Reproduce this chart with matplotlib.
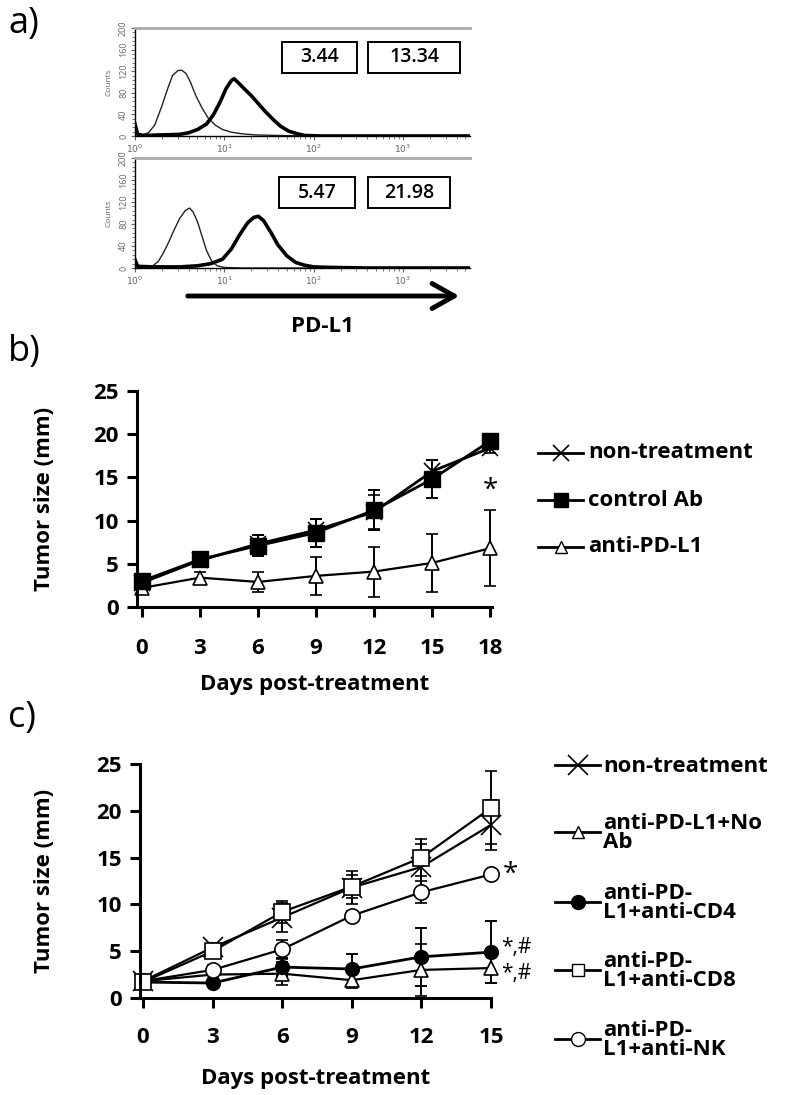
import numpy as np
import matplotlib
matplotlib.use("Agg")
import matplotlib.pyplot as plt
from matplotlib.lines import Line2D
from matplotlib.patches import Rectangle

plt.rcParams['font.family'] = ['Open Sans', 'DejaVu Sans']

# ---- panel a: PD-L1 histograms (log10 intensity, counts) ----
h1_thin_x = [0.0, 0.03, 0.08, 0.15, 0.22, 0.3, 0.36, 0.42, 0.48, 0.52, 0.57, 0.62, 0.68, 0.75, 0.82, 0.9, 0.98, 1.08, 1.2, 1.35, 1.6, 2.0, 3.0, 3.75]
h1_thin_y = [18, 4, 2, 6, 20, 55, 85, 112, 121, 122, 116, 100, 75, 52, 33, 20, 12, 7, 4, 2, 1, 0, 0, 0]
h1_thick_x = [0.0, 0.03, 0.1, 0.3, 0.5, 0.6, 0.7, 0.8, 0.88, 0.95, 1.02, 1.08, 1.11, 1.16, 1.22, 1.3, 1.38, 1.46, 1.55, 1.63, 1.72, 1.82, 1.9, 2.1, 3.0, 3.75]
h1_thick_y = [22, 3, 1, 2, 3, 6, 12, 22, 40, 62, 88, 103, 106, 98, 88, 75, 60, 45, 30, 18, 9, 4, 1, 0, 0, 0]

h2_thin_x = [0.0, 0.03, 0.1, 0.2, 0.26, 0.32, 0.38, 0.44, 0.5, 0.56, 0.61, 0.65, 0.7, 0.75, 0.8, 0.86, 0.92, 1.0, 1.2, 1.6, 2.5, 3.75]
h2_thin_y = [15, 3, 2, 4, 12, 28, 48, 70, 90, 104, 109, 102, 84, 58, 32, 12, 4, 1, 0, 0, 0, 0]
h2_thick_x = [0.0, 0.03, 0.2, 0.5, 0.7, 0.85, 0.98, 1.08, 1.17, 1.26, 1.33, 1.38, 1.44, 1.52, 1.6, 1.7, 1.8, 1.9, 2.0, 2.2, 2.6, 3.75]
h2_thick_y = [15, 3, 2, 2, 4, 8, 16, 35, 60, 82, 92, 94, 86, 65, 42, 22, 10, 5, 2, 1, 0, 0]

box_values = [["3.44", "13.34"], ["5.47", "21.98"]]

# ---- panel b ----
days_b = [0, 3, 6, 9, 12, 15, 18]
b_labels = ["non-treatment", "control Ab", "anti-PD-L1"]
b_nontreat = [2.8, 5.4, 7.3, 8.9, 11.0, 15.7, 18.4]
b_nontreat_err = [0.4, 0.5, 1.0, 1.3, 2.0, 1.3, 0.6]
b_control = [3.0, 5.5, 7.1, 8.6, 11.2, 14.8, 19.2]
b_control_err = [0.5, 0.5, 1.2, 1.6, 2.3, 2.2, 0.6]
b_anti = [2.2, 3.4, 2.9, 3.6, 4.1, 5.1, 6.8]
b_anti_err = [0.3, 0.7, 1.2, 2.2, 2.9, 3.4, 4.4]

# ---- panel c ----
days_c = [0, 3, 6, 9, 12, 15]
c_labels = ["non-treatment", "anti-PD-L1+No\nAb", "anti-PD-\nL1+anti-CD4",
            "anti-PD-\nL1+anti-CD8", "anti-PD-\nL1+anti-NK"]
c_nontreat = [1.8, 5.4, 8.6, 11.8, 14.0, 18.5]
c_nontreat_err = [0.3, 0.5, 1.5, 1.8, 2.5, 2.7]
c_noab = [1.8, 2.5, 2.6, 1.9, 3.0, 3.2]
c_noab_err = [0.3, 0.5, 1.2, 0.8, 2.8, 1.6]
c_cd4 = [1.7, 1.6, 3.3, 3.1, 4.4, 4.9]
c_cd4_err = [0.3, 0.4, 1.0, 1.6, 3.1, 3.3]
c_cd8 = [1.7, 5.0, 9.2, 11.9, 15.0, 20.3]
c_cd8_err = [0.3, 0.6, 1.2, 1.2, 2.0, 3.9]
c_nk = [1.8, 3.0, 5.2, 8.8, 11.3, 13.2]
c_nk_err = [0.3, 0.5, 1.0, 0.5, 1.2, 0.3]

W, H = 800, 1095
fig = plt.figure(figsize=(W / 100, H / 100), dpi=100)


def px_axes(x0, y0, x1, y1):
    # rectangle in pixel coords (top-left origin) -> axes
    return fig.add_axes([x0 / W, 1 - y1 / H, (x1 - x0) / W, (y1 - y0) / H])


def hist_panel(ax, tx, ty, kx, ky):
    ax.plot(10 ** np.array(tx), ty, color='#222222', lw=1.0)
    ax.plot(10 ** np.array(kx), ky, color='black', lw=2.6)
    ax.set_xscale('log')
    ax.set_xlim(1, 10 ** 3.75)
    ax.set_ylim(0, 200)
    ax.set_xticks([1, 10, 100, 1000])
    ax.set_xticklabels(['$10^{0}$', '$10^{1}$', '$10^{2}$', '$10^{3}$'])
    ax.set_yticks([0, 40, 80, 120, 160, 200])
    ax.yaxis.set_minor_locator(matplotlib.ticker.MultipleLocator(8))
    ax.tick_params(axis='both', labelsize=6.5, colors='#666666', length=3, width=0.8, pad=2)
    ax.tick_params(axis='y', labelrotation=90)
    ax.tick_params(which='minor', length=2, color='#666666')
    for t in ax.get_yticklabels():
        t.set_va('center')
    ax.set_ylabel('Counts', fontsize=6, color='#666666', labelpad=5)
    ax.spines['right'].set_visible(False)
    ax.spines['top'].set_color('#aaaaaa')
    ax.spines['top'].set_linewidth(2)
    ax.spines['left'].set_linewidth(1)
    ax.spines['bottom'].set_linewidth(1)


ax1 = px_axes(135, 28, 470, 136)
hist_panel(ax1, h1_thin_x, h1_thin_y, h1_thick_x, h1_thick_y)
ax2 = px_axes(135, 158, 470, 268)
hist_panel(ax2, h2_thin_x, h2_thin_y, h2_thick_x, h2_thick_y)

box_pos = [[(282, 357, 42, 73), (368, 460, 42, 73)],
           [(279, 355, 177, 208), (368, 450, 177, 208)]]
for row, vals in zip(box_pos, box_values):
    for (x0, x1, y0, y1), v in zip(row, vals):
        fig.add_artist(Rectangle((x0 / W, 1 - y1 / H), (x1 - x0) / W, (y1 - y0) / H,
                                 transform=fig.transFigure, fill=False, lw=1.4, ec='black'))
        fig.text((x0 + x1) / 2 / W, 1 - (y0 + y1) / 2 / H, v, ha='center', va='center',
                 fontsize=14, fontweight='semibold')

fig.add_artist(matplotlib.patches.FancyArrowPatch(
    (185 / W, 1 - 296 / H), (462 / W, 1 - 296 / H), transform=fig.transFigure,
    arrowstyle='->,head_length=0.8,head_width=0.45', mutation_scale=20, lw=3.5, color='black'))
fig.text(322 / W, 1 - 326 / H, 'PD-L1', ha='center', va='center', fontsize=16, fontweight='bold')

for lab, y in [('a)', 24), ('b)', 352), ('c)', 718)]:
    fig.text(8 / W, 1 - y / H, lab, ha='left', va='center', fontsize=26)

ebkw = dict(capsize=4.5, elinewidth=1.4, capthick=1.4, clip_on=False)

# ---- panel b axes ----
axb = px_axes(137, 391, 492, 607)
axb.errorbar(days_b, b_anti, yerr=b_anti_err, color='black', lw=1.6, marker='^', ms=10,
             mfc='white', mec='black', mew=1.2, **ebkw)
axb.errorbar(days_b, b_nontreat, yerr=b_nontreat_err, color='black', lw=2, marker='x', ms=12,
             mew=1.2, **ebkw)
axb.errorbar(days_b, b_control, yerr=b_control_err, color='black', lw=2, marker='s', ms=11,
             mfc='black', **ebkw)
axb.set_xlim(-0.25, 18.1)
axb.set_ylim(0, 25)
axb.set_xticks(days_b)
axb.set_yticks([0, 5, 10, 15, 20, 25])
axb.text(18, 13.5, '*', ha='center', va='center', fontsize=20)

# ---- panel c axes ----
axc = px_axes(140, 764, 491, 998)
axc.errorbar(days_c, c_noab, yerr=c_noab_err, color='black', lw=1.6, marker='^', ms=10,
             mfc='white', mec='black', mew=1.2, **ebkw)
axc.errorbar(days_c, c_cd4, yerr=c_cd4_err, color='black', lw=2, marker='o', ms=10,
             mfc='black', **ebkw)
axc.errorbar(days_c, c_nk, yerr=c_nk_err, color='black', lw=1.6, marker='o', ms=11,
             mfc='white', mec='black', mew=1.2, **ebkw)
axc.errorbar(days_c, c_nontreat, yerr=c_nontreat_err, color='black', lw=1.6, marker='x', ms=15,
             mew=1.2, **ebkw)
axc.errorbar(days_c, c_cd8, yerr=c_cd8_err, color='black', lw=1.6, marker='s', ms=11,
             mfc='white', mec='black', mew=1.2, **ebkw)
axc.set_xlim(-0.13, 15.0)
axc.set_ylim(0, 25)
axc.set_xticks(days_c)
axc.set_yticks([0, 5, 10, 15, 20, 25])
axc.text(15.85, c_nk[-1], '*', ha='center', va='center', fontsize=20)
axc.text(15.45, c_cd4[-1] + 0.5, '*,#', ha='left', va='center', fontsize=15)
axc.text(15.45, c_noab[-1] - 0.6, '*,#', ha='left', va='center', fontsize=15)

for ax, ylc, xlc, xpad in [(axb, -0.23, -0.31, 15), (axc, -0.242, -0.30, 14)]:
    for s in ['top', 'right']:
        ax.spines[s].set_visible(False)
    ax.spines['left'].set_linewidth(2.2)
    ax.spines['bottom'].set_linewidth(2.2)
    ax.tick_params(axis='both', direction='out', length=7, width=2.2, labelsize=16)
    for t in ax.get_xticklabels() + ax.get_yticklabels():
        t.set_fontweight('bold')
    ax.tick_params(axis='x', pad=xpad)
    ax.tick_params(axis='y', pad=6)
    ax.set_ylabel('Tumor size (mm)', fontsize=16, fontweight='bold')
    ax.set_xlabel('Days post-treatment', fontsize=16, fontweight='bold')
    ax.yaxis.set_label_coords(ylc, 0.5)
    ax.xaxis.set_label_coords(0.5, xlc)

b_styles = [dict(marker='x', ms=12, mew=1.2),
            dict(marker='s', ms=10, mfc='black'),
            dict(marker='^', ms=9, mfc='white', mec='black')]
for lab, st, y in zip(b_labels, b_styles, [453, 500, 547]):
    x0, x1 = 538, 583
    fig.add_artist(Line2D([x0 / W, x1 / W], [1 - y / H, 1 - y / H], transform=fig.transFigure,
                          color='black', lw=2))
    fig.add_artist(Line2D([(x0 + x1) / 2 / W], [1 - y / H], transform=fig.transFigure,
                          color='black', lw=0, **st))
    fig.text(588 / W, 1 - y / H, lab, ha='left', va='center', fontsize=16, fontweight='bold')

c_styles = [dict(marker='x', ms=14, mew=1.2),
            dict(marker='^', ms=9, mfc='white', mec='black'),
            dict(marker='o', ms=10, mfc='black'),
            dict(marker='s', ms=9, mfc='white', mec='black'),
            dict(marker='o', ms=10, mfc='white', mec='black')]
for lab, st, y in zip(c_labels, c_styles, [765, 832, 902, 970, 1039]):
    x0, x1 = 555, 600
    fig.add_artist(Line2D([x0 / W, x1 / W], [1 - y / H, 1 - y / H], transform=fig.transFigure,
                          color='black', lw=2))
    fig.add_artist(Line2D([(x0 + x1) / 2 / W], [1 - y / H], transform=fig.transFigure,
                          color='black', lw=0, **st))
    fig.text(603 / W, 1 - (y + 1) / H, lab, ha='left', va='center', fontsize=16,
             fontweight='bold', linespacing=0.85)

fig.savefig('out.png', dpi=100)
